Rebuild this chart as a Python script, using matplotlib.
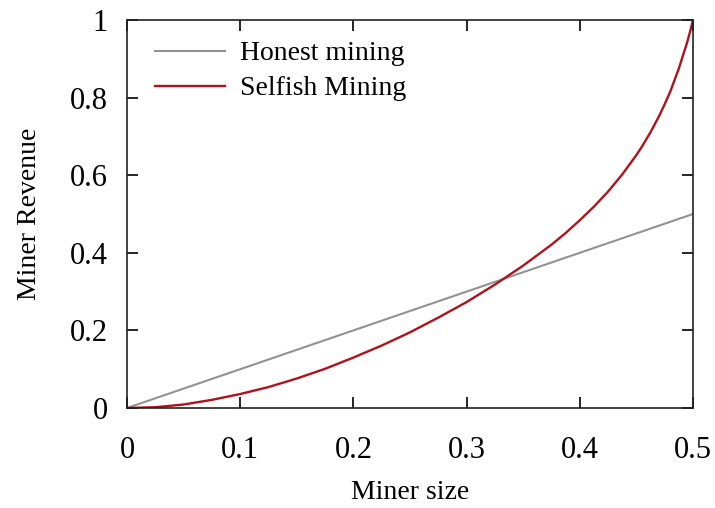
import matplotlib
matplotlib.use("Agg")
import matplotlib.pyplot as plt

# Valores
tamano = [0, 0.025, 0.05, 0.075, 0.1, 0.125, 0.15, 0.175, 0.2, 0.225, 0.25,
          0.275, 0.3, 0.325, 0.35, 0.375, 0.3875, 0.4, 0.4125, 0.425, 0.4375,
          0.45, 0.455, 0.4625, 0.47, 0.475, 0.48, 0.4875, 0.495, 0.4975, 0.5]
egoista = [0, 0.002, 0.009, 0.021, 0.036, 0.054, 0.076, 0.101, 0.130, 0.161,
           0.195, 0.233, 0.273, 0.318, 0.367, 0.421, 0.451, 0.484, 0.519,
           0.558, 0.602, 0.652, 0.674, 0.711, 0.752, 0.783, 0.816, 0.875,
           0.944, 0.971, 1.0]
honesto_x = [0, 0.5]
honesto = [0, 0.5]

plt.rcParams["font.family"] = ["Liberation Serif", "DejaVu Serif"]

fig = plt.figure(figsize=(7.15, 5.08), dpi=100)
ax = fig.add_axes([127 / 715, 1 - 408 / 508, 566 / 715, 388 / 508])

ax.plot(honesto_x, honesto, color="#929292", lw=1.5, label="Honest mining")
ax.plot(tamano, egoista, color="#b0121b", lw=1.7, label="Selfish Mining")

ax.set_xlim(0, 0.5)
ax.set_ylim(0, 1)
ax.set_xticks([0, 0.1, 0.2, 0.3, 0.4, 0.5])
ax.set_xticklabels(["0", "0.1", "0.2", "0.3", "0.4", "0.5"])
ax.set_yticks([0, 0.2, 0.4, 0.6, 0.8, 1])
ax.set_yticklabels(["0", "0.2", "0.4", "0.6", "0.8", "1"])
ax.tick_params(axis="both", direction="in", length=8, width=1.2, top=True,
               right=True, labelsize=22)
ax.tick_params(axis="x", pad=20)
ax.tick_params(axis="y", pad=14)
for s in ax.spines.values():
    s.set_linewidth(1.2)
    s.set_color("#222222")

ax.set_xlabel("Miner size", fontsize=20, labelpad=11)
ax.set_ylabel("Miner Revenue", fontsize=20, labelpad=20)

ax.legend(loc="upper left", frameon=False, fontsize=20, handlelength=2.5,
          handletextpad=0.55, labelspacing=0.35, borderaxespad=0.0,
          bbox_to_anchor=(0.03, 0.975))

plt.savefig("out.png", dpi=100)
plt.close()
